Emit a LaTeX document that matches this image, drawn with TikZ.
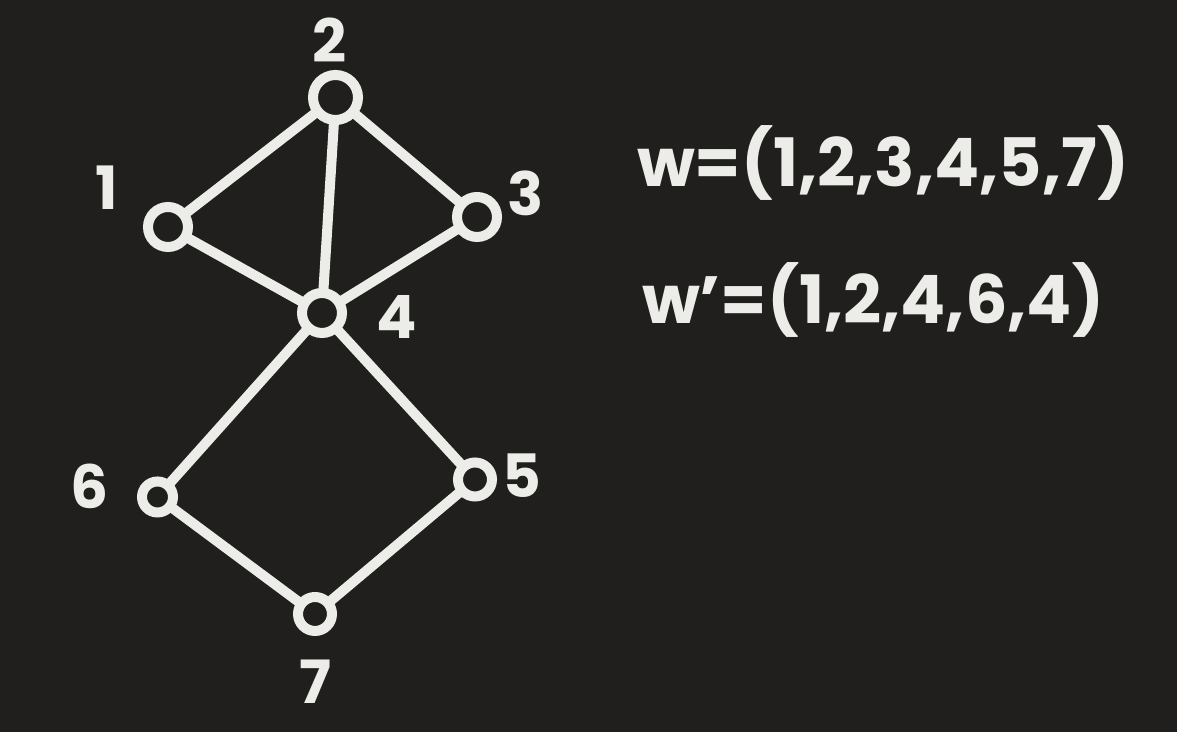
\documentclass[tikz,border=0pt]{standalone}
\usepackage{fontspec}
\setmainfont{Poppins}
\definecolor{bgdark}{RGB}{32,31,29}
\definecolor{chalk}{RGB}{236,236,233}

\begin{document}
\begin{tikzpicture}[
  vtx/.style={circle, draw=chalk, line width=0.2cm, fill=bgdark, inner sep=0pt, outer sep=0pt, minimum size=0.8cm},
  edge/.style={chalk, line width=0.2cm},
  lbl/.style={text=chalk, font=\fontsize{34}{36}\selectfont\bfseries},
  walk/.style={text=chalk, font=\fontsize{38}{42}\selectfont\bfseries}]
% -- Background --
\fill[bgdark] (0,0) rectangle (23.54,14.64);
% -- Vertices --
\node[vtx, minimum size=0.9cm] (v2) at (6.71,12.69) {};
\node[vtx] (v1) at (3.36,10.10) {};
\node[vtx] (v3) at (9.54,10.30) {};
\node[vtx] (v4) at (6.44,8.38) {};
\node[vtx, minimum size=0.62cm] (v6) at (3.15,4.70) {};
\node[vtx, minimum size=0.68cm] (v5) at (9.50,5.05) {};
\node[vtx, minimum size=0.68cm] (v7) at (6.30,2.36) {};
% -- Edges --
\draw[edge] (v1) -- (v2);
\draw[edge] (v2) -- (v3);
\draw[edge] (v2) -- (v4);
\draw[edge] (v1) -- (v4);
\draw[edge] (v3) -- (v4);
\draw[edge] (v4) -- (v6);
\draw[edge] (v4) -- (v5);
\draw[edge] (v6) -- (v7);
\draw[edge] (v5) -- (v7);
% Vertex labels
\node[lbl] (l1) at (2.14,10.88) {1};
\node[lbl] (l2) at (6.60,13.84) {2};
\node[lbl] (l3) at (10.52,10.78) {3};
\node[lbl] (l4) at (7.94,8.30) {4};
\node[lbl] (l5) at (10.44,5.12) {5};
\node[lbl] (l6) at (1.80,4.92) {6};
\node[lbl] (l7) at (6.30,1.00) {7};
% -- Walks --
\node[walk] (w) at (17.66,11.38) {w=(1,2,3,4,5,7)};
\node[walk] (wp) at (17.46,8.64) {w’=(1,2,4,6,4)};
\end{tikzpicture}
\end{document}
